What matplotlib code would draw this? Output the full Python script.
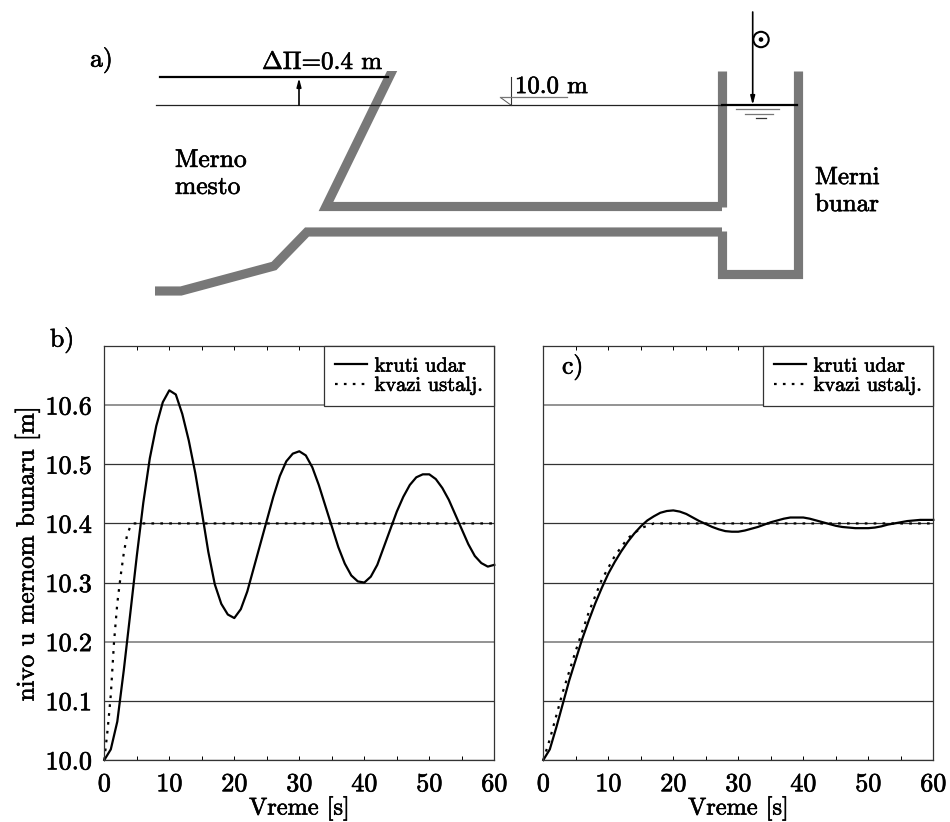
import numpy as np
import matplotlib
matplotlib.use('Agg')
import matplotlib.pyplot as plt
import matplotlib.patheffects as pe
from matplotlib.patches import Circle, Polygon, Rectangle
from matplotlib.text import Text

plt.rcParams['font.family'] = ['cmr10', 'Liberation Serif']
plt.rcParams['mathtext.fontset'] = 'cm'
plt.rcParams['axes.formatter.use_mathtext'] = True

# time axis, 1 s step
t = list(range(61))

kruti_b = [10.000, 10.018, 10.065, 10.152, 10.248, 10.345, 10.435, 10.510, 10.565, 10.605,
           10.625, 10.618, 10.585, 10.540, 10.485, 10.420, 10.352, 10.297, 10.264, 10.246,
           10.240, 10.255, 10.285, 10.325, 10.365, 10.405, 10.445, 10.480, 10.505, 10.518,
           10.522, 10.515, 10.495, 10.465, 10.430, 10.395, 10.360, 10.332, 10.312, 10.302,
           10.300, 10.310, 10.330, 10.360, 10.390, 10.420, 10.445, 10.465, 10.478, 10.483,
           10.483, 10.475, 10.460, 10.440, 10.415, 10.390, 10.365, 10.345, 10.333, 10.327,
           10.330]
kvazi_b_t = [0, 0.5, 1, 1.5, 2, 2.5, 3, 3.5, 4, 4.5, 60]
kvazi_b = [10.0, 10.05, 10.11, 10.2, 10.265, 10.31, 10.35, 10.38, 10.395, 10.4, 10.4]

kruti_c = [10.000, 10.018, 10.055, 10.095, 10.135, 10.170, 10.205, 10.236, 10.265, 10.291,
           10.315, 10.335, 10.353, 10.369, 10.383, 10.395, 10.405, 10.412, 10.418, 10.421,
           10.422, 10.420, 10.416, 10.410, 10.404, 10.399, 10.394, 10.390, 10.387, 10.386,
           10.386, 10.388, 10.391, 10.394, 10.398, 10.402, 10.405, 10.408, 10.410, 10.410,
           10.410, 10.408, 10.405, 10.402, 10.399, 10.396, 10.394, 10.393, 10.392, 10.392,
           10.392, 10.393, 10.395, 10.398, 10.400, 10.402, 10.404, 10.405, 10.406, 10.406,
           10.406]
kvazi_c_t = [0, 1, 2, 3, 5, 7, 9, 11, 13, 15, 17, 60]
kvazi_c = [10.0, 10.035, 10.075, 10.115, 10.185, 10.25, 10.305, 10.345, 10.375, 10.392, 10.4, 10.4]

xticks = [0, 10, 20, 30, 40, 50, 60]
yticks = [10.0, 10.1, 10.2, 10.3, 10.4, 10.5, 10.6]
ytick_labels = ['10.0', '10.1', '10.2', '10.3', '10.4', '10.5', '10.6']

# schematic outlines, in picture pixels
slope_x = [396, 326, 722]
slope_y = [63, 206.5, 206.5]
well_left_x = [722, 722]
well_left_y = [71, 207]
lower_x = [155, 181, 274, 307, 722]
lower_y = [291, 291, 266, 232, 232]
well_x = [722, 722, 797.5, 797.5]
well_y = [231, 274.5, 274.5, 71]

W, H = 950, 822
fig = plt.figure(figsize=(W / 100, H / 100), dpi=100)


def axes_px(left, right, top, bottom):
    return fig.add_axes([left / W, 1 - bottom / H, (right - left) / W, (bottom - top) / H])


# panel a) drawn in a pixel-scaled overlay
sk = fig.add_axes([0, 0, 1, 1])
sk.set_xlim(0, W)
sk.set_ylim(H, 0)
sk.axis('off')

wall = dict(color='#787878', lw=6.6, solid_joinstyle='miter', solid_capstyle='butt')
line, = sk.plot(slope_x, slope_y, **wall)
line.set_clip_path(Rectangle((0, 71), W, 300, transform=sk.transData))
sk.plot(well_left_x, well_left_y, **wall)
sk.plot(lower_x, lower_y, **wall)
sk.plot(well_x, well_y, **wall)

sk.plot([156, 722], [105, 105], color='#222222', lw=0.9)
sk.plot([160, 388], [77, 77], color='black', lw=1.6)
sk.plot([722, 797], [105, 105], color='black', lw=1.6)
arrow = dict(arrowstyle='-|>,head_width=0.13,head_length=0.5', color='black', lw=1.2, shrinkA=0, shrinkB=0)
sk.annotate('', xy=(299, 78), xytext=(299, 105), arrowprops=arrow)
sk.annotate('', xy=(752.7, 105), xytext=(752.7, 12), arrowprops=arrow)
sk.add_patch(Circle((761, 39.5), 7.7, fc='white', ec='black', lw=1.5, zorder=4))
sk.add_patch(Circle((761, 39.5), 2.3, fc='black', ec='black', lw=0, zorder=5))
sk.plot([736, 779], [109.5, 109.5], color='#777777', lw=0.9)
sk.plot([745, 773], [114, 114], color='#777777', lw=0.9)
sk.plot([756, 766], [118.5, 118.5], color='#333333', lw=0.9)

# level mark 10.0 m
sk.add_patch(Polygon([[500, 97], [511, 97], [511, 105]], fc='white', ec='#555555', lw=0.7, closed=True))
sk.plot([511, 511], [77, 105], color='#333333', lw=0.8)
sk.plot([500, 567], [97, 97], color='#777777', lw=0.9)

sk.text(90, 60, 'a)', fontsize=18.5, ha='left', va='center')
sk.text(262, 63, r'$\Delta\Pi$=0.4 m', fontsize=18, ha='left', va='center')
sk.text(515, 87, '10.0 m', fontsize=17.8, ha='left', va='center')
sk.text(175, 160, 'Merno', fontsize=18.4, ha='left', va='center')
sk.text(175, 187, 'mesto', fontsize=18.4, ha='left', va='center')
sk.text(815, 178, 'Merni', fontsize=18, ha='left', va='center')
sk.text(815, 205, 'bunar', fontsize=18, ha='left', va='center')
sk.text(50, 340, 'b)', fontsize=18.5, ha='left', va='center')
sk.text(562, 367, 'c)', fontsize=18.5, ha='left', va='center', zorder=10)

panels = [
    (axes_px(104.3, 494.3, 346, 760), kruti_b, kvazi_b_t, kvazi_b),
    (axes_px(543.3, 933.3, 346, 760), kruti_c, kvazi_c_t, kvazi_c),
]
for i, (ax, kruti, kv_t, kv) in enumerate(panels):
    ax.patch.set_alpha(0)
    ax.set_xlim(0, 60)
    ax.set_ylim(10.0, 10.7)
    ax.set_axisbelow(True)
    ax.plot(t, kruti, color='black', lw=1.6, label='kruti udar', clip_on=False)
    ax.plot(kv_t, kv, color='black', lw=1.6, ls=(0, (1.2, 2.8)), label='kvazi ustalj.', clip_on=False)
    ax.set_xticks(xticks)
    ax.set_xticklabels([str(v) for v in xticks], fontsize=18.8)
    ax.set_xticks(list(range(5, 60, 10)), minor=True)
    ax.tick_params(axis='x', which='both', direction='in', length=3, width=0.7, top=True, pad=9)
    ax.set_yticks(yticks)
    ax.yaxis.grid(True, color='#333333', lw=0.9)
    # the 10.2 and 10.6 rules come out lighter and wider in the scan
    for k in (2, 6):
        ax.get_ygridlines()[k].set_color('#8a8a8a')
        ax.get_ygridlines()[k].set_linewidth(1.3)
    if i == 0:
        ax.set_yticklabels(ytick_labels, fontsize=18.8)
        ax.set_ylabel('nivo u mernom bunaru [m]', fontsize=18, va='center')
        ax.yaxis.set_label_coords(-0.198, 0.499)
    else:
        ax.set_yticklabels([])
    ax.tick_params(axis='y', length=0, pad=9)
    ax.set_xlabel('Vreme [s]', fontsize=17.5, va='center')
    ax.xaxis.set_label_coords(0.5, -0.116)
    for s in ax.spines.values():
        s.set_linewidth(0.9)
        s.set_color('#333333')
    leg = ax.legend(loc='upper right', borderaxespad=0, fontsize=14.7, fancybox=False, framealpha=1,
                    edgecolor='#333333', handlelength=1.57, handletextpad=0.35, labelspacing=0.05, borderpad=0.55)
    leg.get_frame().set_linewidth(0.9)

# the scanned type is heavier than the plain font
for txt in fig.findobj(Text):
    txt.set_path_effects([pe.withStroke(linewidth=0.45, foreground='black')])

fig.savefig('out.png', dpi=100)
